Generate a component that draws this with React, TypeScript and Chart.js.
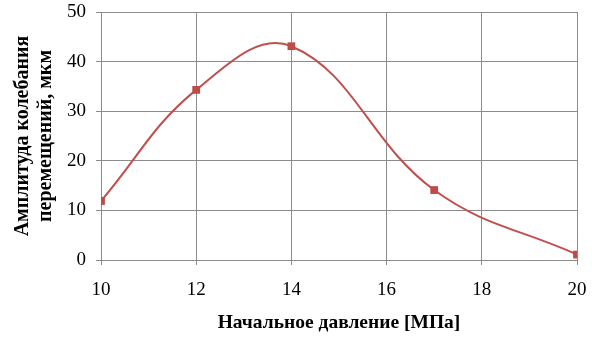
import React, { useEffect, useRef } from "react";
import { Chart, registerables } from "chart.js";

Chart.register(...registerables);

const pressure = [10, 12, 14, 17, 20];
const amplitude = [11.9, 34.3, 43.1, 14.1, 1.1];
const xTitle = "Начальное давление [МПа]";
const yTitle = ["Амплитуда колебания", "перемещений, мкм"];

export default function App() {
  const ref = useRef<HTMLCanvasElement>(null);
  useEffect(() => {
    document.body.style.margin = "0";
    const ctx = ref.current!;
    const serif = "'Liberation Serif', 'Times New Roman', serif";
    const chart = new Chart(ctx, {
      type: "line",
      data: {
        datasets: [
          {
            data: pressure.map((x, i) => ({ x, y: amplitude[i] })),
            borderColor: "#c0504d",
            backgroundColor: "#be4b48",
            borderWidth: 2,
            tension: 0.4,
            pointStyle: "rect",
            pointRadius: 5.5,
            pointBorderWidth: 0,
            pointBackgroundColor: "#be4b48",
          },
        ],
      },
      options: {
        animation: false,
        responsive: false,
        maintainAspectRatio: false,
        plugins: { legend: { display: false }, tooltip: { enabled: false } },
        layout: { padding: { left: 0, right: 15, top: 12, bottom: 0 } },
        scales: {
          x: {
            type: "linear",
            min: 10,
            max: 20,
            ticks: { stepSize: 2, color: "#000", font: { family: serif, size: 19 }, padding: 14 },
            grid: { color: "#8c8c8c", tickLength: 5, lineWidth: 1 },
            border: { color: "#8c8c8c" },
            title: {
              display: true,
              text: xTitle,
              color: "#000",
              font: { family: serif, size: 19.5, weight: "bold" },
              padding: { top: 0, bottom: 9 },
            },
            afterFit: (s: any) => {
              s.height = 84;
              s.paddingLeft = 0;
              s.paddingRight = 0;
            },
          },
          y: {
            min: 0,
            max: 50,
            ticks: { stepSize: 10, color: "#000", font: { family: serif, size: 19 }, padding: 10 },
            grid: { color: "#8c8c8c", tickLength: 5, lineWidth: 1 },
            border: { color: "#8c8c8c" },
            title: {
              display: true,
              text: yTitle,
              color: "#000",
              font: { family: serif, size: 20, weight: "bold", lineHeight: 1.15 },
              padding: { top: 11, bottom: 0 },
            },
            afterFit: (s: any) => {
              s.width = 101;
              s.paddingTop = 0;
              s.paddingBottom = 0;
            },
          },
        },
      },
    });
    return () => chart.destroy();
  }, []);
  return (
    <div style={{ position: "absolute", left: 0, top: 0, width: 592, height: 344, background: "#fff" }}>
      <canvas ref={ref} width={592} height={344} />
    </div>
  );
}
